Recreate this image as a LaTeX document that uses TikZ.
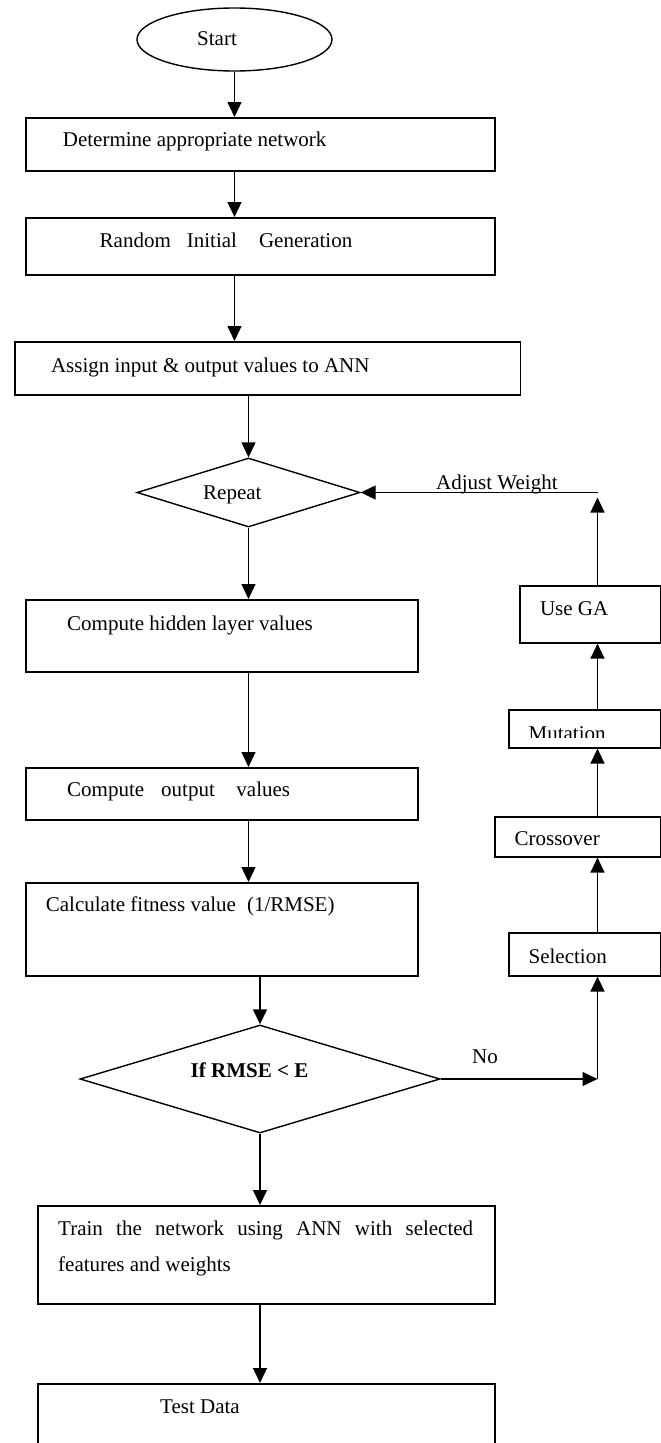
\documentclass[tikz,border=0pt]{standalone}
\usepackage{fontspec}
\setmainfont{Liberation Serif}
\usetikzlibrary{shapes.geometric,arrows.meta,calc}
\begin{document}
\begin{tikzpicture}[x=1pt,y=-1pt,
  box/.style={draw,line width=1.6pt,rectangle,inner sep=0pt,anchor=north west},
  shp/.style={draw,line width=1.4pt,inner sep=0pt},
  lbl/.style={anchor=base west,inner sep=0pt,font=\fontsize{21}{36}\selectfont},
  arr/.style={line width=1.4pt,-{Triangle[length=15pt,width=14pt]}}]
\path[use as bounding box] (0,0) rectangle (661,1443);
\clip (0,0) rectangle (661,1443);

% main column
\node[shp,ellipse,minimum width=195pt,minimum height=63pt] (start) at (234.5,39.5) {};
\node[lbl] (starttxt) at (197,45) {Start};

\node[box,minimum width=469pt,minimum height=53pt] (b1) at (25,117) {};
\node[lbl] (b1txt) at (62.7,146.3) {Determine appropriate network};

\node[box,minimum width=469pt,minimum height=57pt] (b2) at (25,217) {};
\node[lbl] (b2txt) at (99.5,247) {Random\hspace{16pt}Initial\hspace{22pt}Generation};

\node[box,minimum width=505.5pt,minimum height=53pt] (b3) at (14,341) {};
\node[lbl] (b3txt) at (50.8,372) {Assign input \& output values to ANN};

\node[shp,diamond,minimum width=223pt,minimum height=69pt] (rep) at (248.5,492.5) {};
\node[lbl] (reptxt) at (203,499.6) {Repeat};

\node[box,minimum width=392pt,minimum height=72pt] (hid) at (25,599) {};
\node[lbl] (hidtxt) at (67,630) {Compute hidden layer values};

\node[box,minimum width=392pt,minimum height=52pt] (out) at (25,767) {};
\node[lbl] (outtxt) at (67,796) {Compute\hspace{17pt}output\hspace{21.6pt}values};

\node[box,minimum width=392pt,minimum height=93pt] (fit) at (25,882) {};
\node[lbl] (fittxt) at (45.7,911) {Calculate fitness value\hspace{11pt}(1/RMSE)};

\node[shp,diamond,minimum width=360pt,minimum height=108pt] (rmse) at (260,1079) {};
\node[lbl] (rmsetxt) at (190.5,1077) {\textbf{If RMSE < E}};

\node[box,minimum width=457pt,minimum height=98pt] (train) at (37,1205) {};
\node[lbl] (traintxt1) at (58,1235) {\makebox[415pt][s]{Train the network using ANN with selected}};
\node[lbl] (traintxt2) at (58,1271) {features and weights};

\node[box,minimum width=457pt,minimum height=80pt] (test) at (37,1383) {};
\node[lbl] (testtxt) at (160,1413.6) {Test Data};

% GA column
\node[box,minimum width=141pt,minimum height=57pt] (usega) at (519,585) {};
\node[lbl] (usegatxt) at (539.8,615) {Use GA};

\node[box,minimum width=152pt,minimum height=38pt] (mut) at (508,709) {};
\begin{scope}
  \clip (508,709) rectangle (660,737.3);
  \node[lbl] (muttxt) at (528.4,740) {Mutation};
\end{scope}

\node[box,minimum width=166pt,minimum height=40pt] (cross) at (494,816) {};
\node[lbl] (crosstxt) at (514.4,845) {Crossover};

\node[box,minimum width=152pt,minimum height=43pt] (sel) at (508,932) {};
\node[lbl] (seltxt) at (528.4,963) {Selection};

% connectors
\coordinate (rx) at (597.5,0);
\draw[arr] (start.south) -- (start.south |- b1.north);
\draw[arr] (start.south |- b1.south) -- (start.south |- b2.north);
\draw[arr] (start.south |- b2.south) -- (start.south |- b3.north);
\draw[arr] (rep.north |- b3.south) -- (rep.north);
\draw[arr] (rep.south) -- (rep.south |- hid.north);
\draw[arr] (rep.south |- hid.south) -- (rep.south |- out.north);
\draw[arr] (rep.south |- out.south) -- (rep.south |- fit.north);
\draw[arr] (rmse.north |- fit.south) -- (rmse.north);
\draw[arr] (rmse.south) -- (rmse.south |- train.north);
\draw[arr] (rmse.south |- train.south) -- (rmse.south |- test.north);

\coordinate (nocorner) at (597.5,1079);
\draw[arr] (rmse.east) -- (nocorner);
\node[lbl] (notxt) at (472,1063.5) {No};
\draw[arr] (nocorner) -- (rx |- sel.south);
\draw[arr] (rx |- sel.north) -- (rx |- cross.south);
\draw[arr] (rx |- cross.north) -- (rx |- mut.south);
\draw[arr] (rx |- mut.north) -- (rx |- usega.south);
\coordinate (adjtip) at (597.5,497.5);
\draw[arr] (rx |- usega.north) -- (adjtip);
\coordinate (adjstart) at (597.5,492.5);
\draw[arr] (adjstart) -- (rep.east);
\node[lbl] (adjtxt) at (436,489.6) {Adjust Weight};
\end{tikzpicture}
\end{document}
